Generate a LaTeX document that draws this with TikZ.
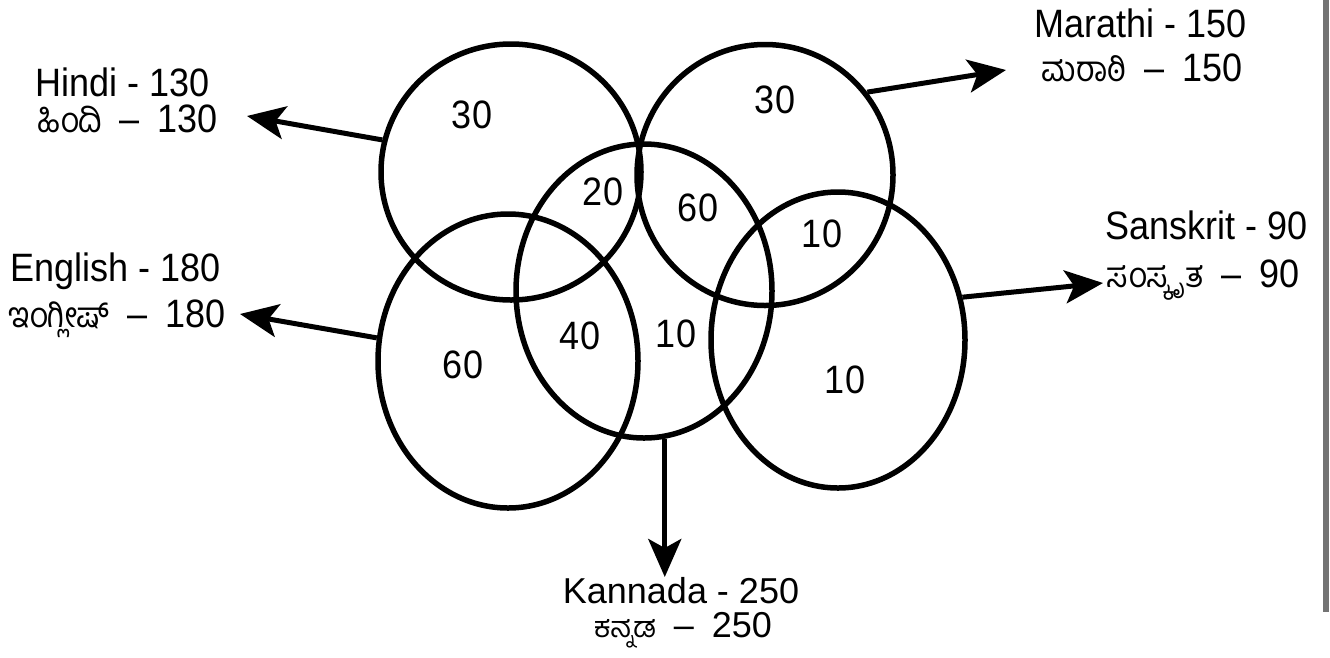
\documentclass[tikz,border=0pt]{standalone}
\usepackage{graphicx}
\usepackage{fontspec}
\setmainfont{Liberation Sans}
\newfontfamily\kn[Script=Kannada]{Hind Mysuru}
\usetikzlibrary{arrows.meta,shapes.geometric}
\newcommand{\vst}[1]{\scalebox{1}[1.1]{#1}}
\newcommand{\knw}[1]{{\fontsize{32}{38}\selectfont\kn #1}}
\newcommand{\knsm}[1]{{\fontsize{29}{34}\selectfont\kn #1}}
\begin{document}
\begin{tikzpicture}[x=1pt,y=-1pt,
  venn/.style={ellipse, draw, line width=5.5pt, inner sep=0pt},
  num/.style={font=\fontsize{36}{42}\selectfont, inner sep=0pt},
  lab/.style={font=\fontsize{36}{42}\selectfont, inner sep=0pt},
  arr/.style={line width=5pt, -{Stealth[length=38pt,width=33pt,inset=9pt]}}]
\useasboundingbox[fill=white] (0,0) rectangle (1330,657);
\draw[black!55, line width=6pt] (1326,0) -- (1326,612);
% circles
\node[venn, minimum width=260pt, minimum height=256pt] (hindi)    at (511,172) {};
\node[venn, minimum width=256pt, minimum height=261pt] (marathi)  at (765,175) {};
\node[venn, minimum width=256pt, minimum height=294pt] (kannada)  at (644,291) {};
\node[venn, minimum width=260pt, minimum height=294pt] (english)  at (508,361) {};
\node[venn, minimum width=254pt, minimum height=296pt] (sanskrit) at (838,340) {};
% region numbers
\node[num] (n1) at (472,115) {\vst{30}};
\node[num] (n2) at (775,100) {\vst{30}};
\node[num] (n3) at (603,192) {\vst{20}};
\node[num] (n4) at (698,208) {\vst{60}};
\node[num] (n5) at (822,234) {\vst{10}};
\node[num] (n6) at (580,336) {\vst{40}};
\node[num] (n7) at (676,334) {\vst{10}};
\node[num] (n8) at (463,365) {\vst{60}};
\node[num] (n9) at (845,380) {\vst{10}};
% labels
\node[lab, anchor=base west] (hindiEn) at (35,96) {\vst{Hindi - 130}};
\node[lab, anchor=base west] (hindiKn) at (37,132) {\vst{\knw{ಹಿಂದಿ}\enspace–\enspace130}};
\node[lab, anchor=base west] (englishEn) at (10,281) {\vst{English - 180}};
\node[lab, anchor=base west] (englishKn) at (8,327) {\vst{\knw{ಇಂಗ್ಲೀಷ್}\enspace–\enspace180}};
\node[lab, anchor=base east] (marathiEn) at (1247,37) {\vst{Marathi - 150}};
\node[lab, anchor=base east] (marathiKn) at (1243,81) {\vst{\knw{ಮರಾಠಿ}\enspace–\enspace150}};
\node[lab, anchor=base east] (sanskritEn) at (1308,239) {\vst{Sanskrit - 90}};
\node[lab, anchor=base east] (sanskritKn) at (1300,287) {\vst{\knw{ಸಂಸ್ಕೃತ}\enspace–\enspace90}};
\node[lab, anchor=base] (kannadaEn) at (681,603) {Kannada - 250};
\node[lab, anchor=base] (kannadaKn) at (683,637) {\knsm{ಕನ್ನಡ}\enspace–\enspace250};
% arrows
\coordinate (hTip) at (247,116);
\coordinate (eTip) at (240,314);
\coordinate (mTip) at (1006,70);
\coordinate (sTip) at (1103,283);
\coordinate (kTip) at (663,577);
\draw[arr] (hindi.166) -- (hTip);
\draw[arr] (english.170) -- (eTip);
\draw[arr] (marathi.39) -- (mTip);
\draw[arr] (sanskrit.19) -- (sTip);
\draw[arr] (kannada.-82.6) -- (kannada.-82.6 |- kTip);
\end{tikzpicture}
\end{document}
